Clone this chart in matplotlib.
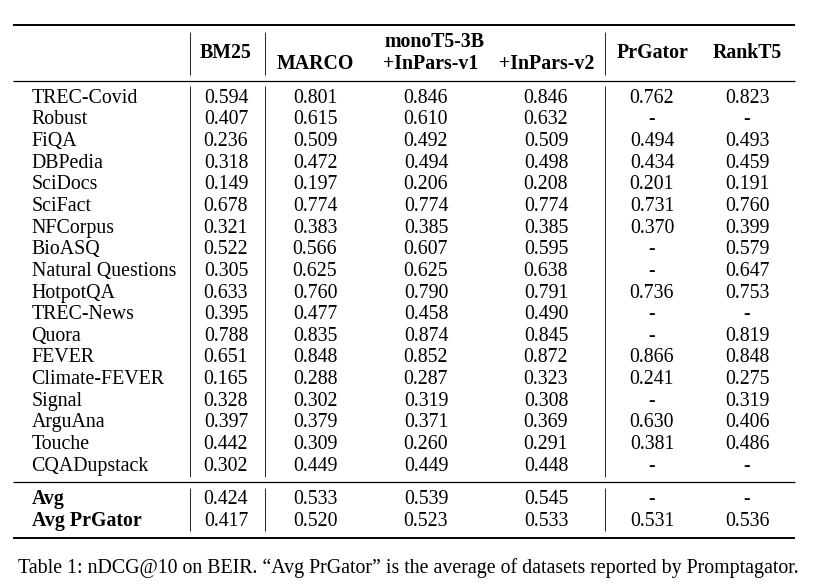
import matplotlib
matplotlib.use("Agg")
import matplotlib.pyplot as plt

datasets = ["TREC-Covid", "Robust", "FiQA", "DBPedia", "SciDocs", "SciFact", "NFCorpus",
            "BioASQ", "Natural Questions", "HotpotQA", "TREC-News", "Quora", "FEVER",
            "Climate-FEVER", "Signal", "ArguAna", "Touche", "CQADupstack"]
bm25 = [0.594, 0.407, 0.236, 0.318, 0.149, 0.678, 0.321, 0.522, 0.305, 0.633, 0.395,
        0.788, 0.651, 0.165, 0.328, 0.397, 0.442, 0.302]
marco = [0.801, 0.615, 0.509, 0.472, 0.197, 0.774, 0.383, 0.566, 0.625, 0.760, 0.477,
         0.835, 0.848, 0.288, 0.302, 0.379, 0.309, 0.449]
inpars_v1 = [0.846, 0.610, 0.492, 0.494, 0.206, 0.774, 0.385, 0.607, 0.625, 0.790, 0.458,
             0.874, 0.852, 0.287, 0.319, 0.371, 0.260, 0.449]
inpars_v2 = [0.846, 0.632, 0.509, 0.498, 0.208, 0.774, 0.385, 0.595, 0.638, 0.791, 0.490,
             0.845, 0.872, 0.323, 0.308, 0.369, 0.291, 0.448]
prgator = [0.762, None, 0.494, 0.434, 0.201, 0.731, 0.370, None, None, 0.736, None,
           None, 0.866, 0.241, None, 0.630, 0.381, None]
rankt5 = [0.823, None, 0.493, 0.459, 0.191, 0.760, 0.399, 0.579, 0.647, 0.753, None,
          0.819, 0.848, 0.275, 0.319, 0.406, 0.486, None]

avg_labels = ["Avg", "Avg PrGator"]
avg_bm25 = [0.424, 0.417]
avg_marco = [0.533, 0.520]
avg_v1 = [0.539, 0.523]
avg_v2 = [0.545, 0.533]
avg_prgator = [None, 0.531]
avg_rankt5 = [None, 0.536]

caption = "Table 1: nDCG@10 on BEIR. \u201cAvg PrGator\u201d is the average of datasets reported by Promptagator."

plt.rcParams['font.family'] = ['Liberation Serif', 'DejaVu Serif']
fig = plt.figure(figsize=(8.14, 5.86), dpi=100)
ax = fig.add_axes([0, 0, 1, 1])
ax.set_xlim(0, 814)
ax.set_ylim(586, 0)
ax.axis('off')

FS = 14.3
num_x = [226, 315, 426, 546, 652, 747]
head_x = [226, 315, 431, 547, 653, 747]
label_x = 31.5
row0 = 102.7
dy = 21.65

def fmt(v):
    return "-" if v is None else f"{v:.3f}"

B = dict(ha='center', va='baseline', fontsize=FS, fontweight='bold')
# header
ax.text(head_x[0], 58, "BM25", **B)
ax.text(435, 47, "monoT5-3B", **B)
ax.text(head_x[1], 69, "MARCO", **B)
ax.text(head_x[2], 69, "+InPars-v1", **B)
ax.text(head_x[3], 69, "+InPars-v2", **B)
ax.text(head_x[4], 58, "PrGator", **B)
ax.text(head_x[5], 58, "RankT5", **B)

cols = [bm25, marco, inpars_v1, inpars_v2, prgator, rankt5]
for i, name in enumerate(datasets):
    y = row0 + i * dy
    ax.text(label_x, y, name, ha='left', va='baseline', fontsize=FS)
    for cx, col in zip(num_x, cols):
        ax.text(cx, y, fmt(col[i]), ha='center', va='baseline', fontsize=FS)

avg_cols = [avg_bm25, avg_marco, avg_v1, avg_v2, avg_prgator, avg_rankt5]
for i, name in enumerate(avg_labels):
    y = 504 + i * dy
    ax.text(label_x, y, name, ha='left', va='baseline', fontsize=FS, fontweight='bold')
    for cx, col in zip(num_x, avg_cols):
        ax.text(cx, y, fmt(col[i]), ha='center', va='baseline', fontsize=FS)

# rules
ax.plot([13, 795], [25, 25], color='black', lw=1.4, solid_capstyle='butt')
ax.plot([13, 795], [80.5, 80.5], color='black', lw=0.9, solid_capstyle='butt')
ax.plot([13, 795], [482, 482], color='black', lw=0.9, solid_capstyle='butt')
ax.plot([13, 795], [537.5, 537.5], color='black', lw=1.4, solid_capstyle='butt')

for vx in [189.5, 265, 604.5]:
    for y0, y1 in [(32, 75), (86, 477), (488, 531)]:
        ax.plot([vx, vx], [y0, y1], color='black', lw=0.6, solid_capstyle='butt')

ax.text(18, 573, caption, ha='left', va='baseline', fontsize=FS)

fig.savefig("out.png", dpi=100)
